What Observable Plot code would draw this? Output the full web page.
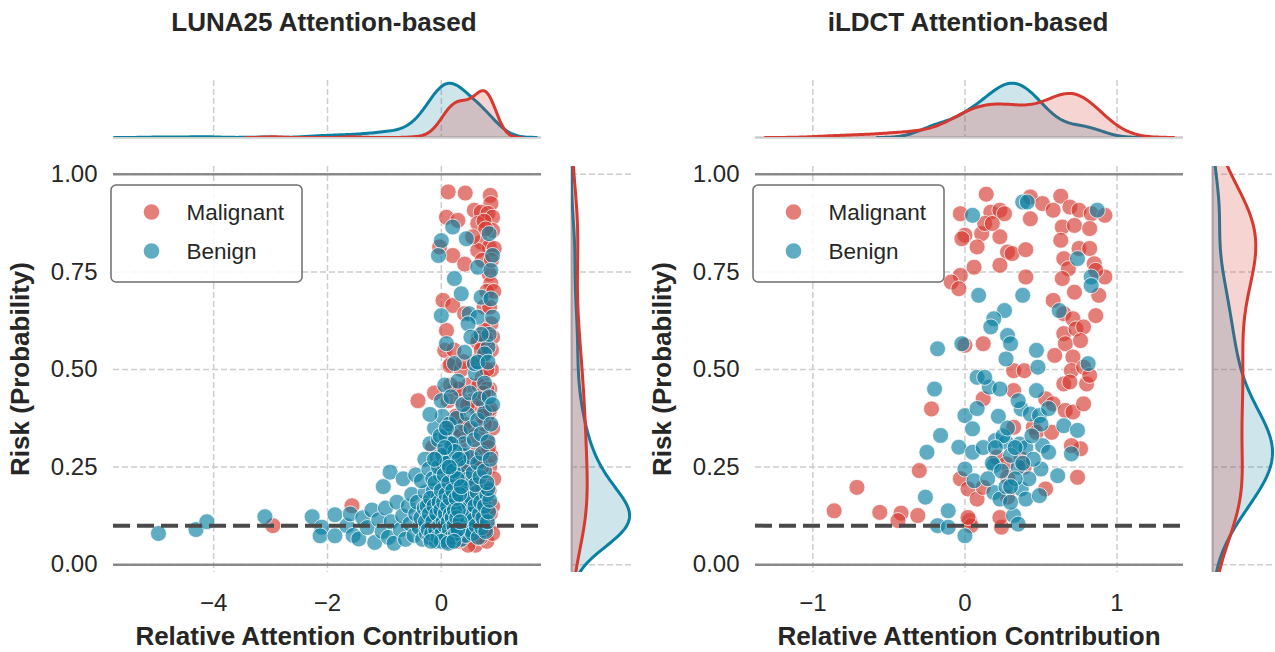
<!DOCTYPE html>
<html>
<head>
<meta charset="utf-8">
<script src="https://cdn.jsdelivr.net/npm/d3@7"></script>
<script src="https://cdn.jsdelivr.net/npm/@observablehq/plot@0.6"></script>
<style>
html, body { margin: 0; padding: 0; background: #ffffff; }
#fig { position: relative; width: 1275px; height: 652px; overflow: hidden; background: #ffffff; }
#fig svg { position: absolute; left: 0; top: 0; }
</style>
</head>
<body>
<div id="fig"></div>
<script>
// ---------------- data ----------------
const groups = ["Malignant", "Benign"];
const panelTitles = ["LUNA25 Attention-based", "iLDCT Attention-based"];
const xLabel = "Relative Attention Contribution";
const yLabel = "Risk (Probability)";
const yTicks = [0, 0.25, 0.5, 0.75, 1];
const lunaXTicks = [-4, -2, 0];
const ildctXTicks = [-1, 0, 1];
const threshold = 0.1;

// LUNA25: [relative attention contribution, risk]
const lunaMalignant = [
  [0.12,0.955],[0.42,0.952],[0.86,0.946],[0.87,0.925],[0.58,0.908],[0.70,0.903],[0.82,0.90],[0.09,0.89],[0.29,0.882],[0.64,0.874],
  [0.90,0.89],[0.90,0.856],[0.70,0.826],[0.84,0.814],[0.93,0.81],[0.64,0.805],[-0.03,0.814],[0.20,0.792],[0.41,0.77],[0.84,0.745],
  [0.87,0.72],[0.03,0.677],[0.20,0.664],[0.41,0.643],[0.87,0.617],[0.09,0.60],[0.06,0.549],[0.17,0.515],[0.76,0.60],[0.90,0.583],
  [0.75,0.88],[0.78,0.86],[0.55,0.84],[0.72,0.78],[0.80,0.70],[0.75,0.66],[0.88,0.78],[0.92,0.70],[0.85,0.66],[0.65,0.58],
  [-2.96,0.10],[-1.57,0.151],[-0.41,0.42],[-0.12,0.44],[0.15,0.51],[0.79,0.194],[0.84,0.39],[0.23,0.326],[0.23,0.07],
  [0.85,0.45],[0.80,0.38],[0.75,0.55],[0.88,0.50],[0.35,0.27],[0.20,0.35],[0.60,0.22],[0.50,0.15],[0.70,0.12],[0.40,0.08],
  [0.10,0.06],[0.30,0.11],[0.65,0.30],[0.55,0.42],[0.45,0.35],[0.85,0.25],[0.78,0.15],[0.20,0.18],[0.00,0.25],[0.60,0.05],
  [0.88,0.55],[0.25,0.45],[0.72,0.48],[0.50,0.25],[0.80,0.32],[0.15,0.28],[0.62,0.40],[0.35,0.50],[0.90,0.35],[0.42,0.20],
  [0.68,0.35],[0.05,0.12],[0.55,0.10],[0.80,0.06],[0.30,0.38],[0.12,0.42],[0.48,0.46],[0.75,0.20],[0.90,0.15],[0.70,0.42],
  [0.82,0.10],[0.66,0.18],[0.74,0.28],[0.86,0.40],[0.58,0.52],[0.78,0.58],[0.69,0.07],[0.92,0.22],[0.38,0.16],[0.27,0.22],
  [-0.10,0.15],[-0.05,0.09],[0.08,0.33],[0.18,0.09],[0.32,0.30],[0.44,0.12],[0.52,0.33],[0.63,0.13],[0.71,0.25],[0.84,0.19],
  [0.90,0.08],[0.76,0.36],[0.66,0.46],[0.58,0.27],[0.47,0.05],[0.36,0.42],[0.22,0.55],[0.87,0.28],[0.73,0.53],[0.64,0.57],
  [-0.15,0.30],[0.02,0.19],[0.40,0.24],[0.55,0.20],[0.80,0.45],
  [0.15,0.10],[0.18,0.22],[0.20,0.30],[0.22,0.13],[0.25,0.38],[0.26,0.17],[0.28,0.27],[0.30,0.06],[0.31,0.45],[0.33,0.19],
  [0.34,0.33],[0.36,0.09],[0.37,0.24],[0.39,0.52],[0.40,0.14],[0.41,0.36],[0.43,0.28],[0.44,0.18],[0.46,0.41],[0.47,0.09],
  [0.10,0.22],[0.12,0.36],[0.08,0.16],[0.05,0.28],[0.16,0.46],[0.62,0.16],[0.68,0.26],[0.72,0.38],[0.77,0.09],[0.83,0.30],
  [0.70,0.55],[0.80,0.50],[0.65,0.12],[0.74,0.44],[0.86,0.13]
];
const lunaBenign = [
  [-4.97,0.08],[-4.31,0.09],[-4.12,0.11],[-3.10,0.123],[-2.27,0.123],[-2.10,0.096],[-2.13,0.074],[-1.87,0.128],[-1.87,0.074],
  [-1.66,0.10],[-1.60,0.13],[-1.55,0.075],[-1.45,0.066],[-1.38,0.12],[-1.30,0.095],[-1.22,0.14],[-1.17,0.057],[-1.10,0.115],[-1.04,0.085],
  [-0.98,0.145],[-0.93,0.07],[-0.88,0.11],[-0.83,0.055],[-0.78,0.16],[-0.72,0.09],[-0.68,0.125],[-0.63,0.065],[-0.58,0.15],[-0.55,0.105],[-0.52,0.18],
  [-0.48,0.075],[-0.45,0.13],[-0.42,0.16],[-0.39,0.095],[-0.36,0.12],[-0.33,0.065],[-0.30,0.145],[-0.28,0.185],[-0.27,0.10],[-0.26,0.08],
  [-0.24,0.125],[-0.22,0.16],[-0.20,0.07],[-0.18,0.105],[-0.16,0.14],[-0.14,0.19],[-0.12,0.085],[-0.10,0.12],[-0.09,0.06],[-0.07,0.155],
  [-0.06,0.10],[-0.05,0.175],[-0.04,0.075],[-0.03,0.13],[-0.02,0.11],[-0.01,0.09],
  [0.01,0.15],[0.02,0.065],[0.03,0.12],[0.04,0.19],[0.05,0.095],[0.06,0.14],[0.08,0.075],[0.09,0.165],[0.10,0.11],[0.11,0.13],
  [0.12,0.085],[0.13,0.18],[0.14,0.06],[0.15,0.12],[0.17,0.15],[0.18,0.095],[0.20,0.135],[0.21,0.07],[0.23,0.17],[0.24,0.105],
  [0.26,0.14],[0.27,0.08],[0.29,0.115],[0.30,0.185],[0.32,0.095],[0.33,0.155],[0.35,0.065],[0.36,0.125],[0.38,0.17],[0.40,0.10],
  [0.41,0.14],[0.43,0.075],[0.45,0.19],[0.46,0.115],[0.48,0.155],[0.49,0.09],
  [0.51,0.13],[0.53,0.17],[0.55,0.08],[0.57,0.115],[0.59,0.15],[0.61,0.10],[0.63,0.185],[0.65,0.07],[0.67,0.13],[0.69,0.16],
  [0.71,0.095],[0.73,0.12],[0.76,0.15],[0.78,0.085],[0.80,0.18],[0.81,0.11],[0.83,0.135],[0.85,0.165],[0.82,0.195],
  [-1.02,0.20],[-0.90,0.237],[-0.67,0.22],[-0.45,0.23],[-0.35,0.215],[-0.29,0.27],[-0.22,0.245],[-0.15,0.22],[-0.08,0.275],[-0.02,0.23],
  [0.03,0.26],[0.07,0.21],[0.12,0.285],[0.16,0.24],[0.20,0.215],[0.25,0.265],[0.29,0.233],[0.33,0.205],[0.37,0.28],[0.42,0.25],
  [0.47,0.22],[0.52,0.275],[0.56,0.235],[0.60,0.205],[0.64,0.26],[0.68,0.225],[0.72,0.285],[0.76,0.24],[0.80,0.21],[0.86,0.27],
  [-0.20,0.31],[-0.12,0.35],[-0.05,0.32],[0.02,0.38],[0.08,0.33],[0.14,0.36],[0.20,0.31],[0.27,0.375],[0.33,0.34],[0.40,0.31],
  [0.46,0.385],[0.52,0.35],[0.58,0.32],[0.64,0.37],[0.70,0.335],[0.76,0.39],[0.82,0.315],[0.87,0.36],
  [-0.20,0.385],[0.00,0.42],[0.06,0.46],[0.17,0.43],[0.29,0.47],[0.38,0.41],[0.50,0.44],[0.60,0.49],[0.67,0.425],[0.76,0.465],
  [0.84,0.43],[0.90,0.41],[0.23,0.515],[0.58,0.515],[0.82,0.557],[0.84,0.59],
  [0.20,0.865],[0.44,0.835],[0.84,0.848],[0.00,0.83],[-0.05,0.792],[0.64,0.762],[0.90,0.792],[0.23,0.733],[0.87,0.754],[0.35,0.694],
  [0.70,0.685],[0.87,0.681],[0.00,0.638],[0.49,0.643],[0.64,0.634],[0.90,0.634],[0.41,0.544],[0.70,0.59],[0.76,0.54],[0.64,0.519],
  [0.82,0.519],[0.47,0.617],[0.52,0.583],[0.09,0.566],
  [-0.28,0.11],[-0.25,0.15],[-0.23,0.09],[-0.21,0.13],[-0.19,0.17],[-0.17,0.08],[-0.15,0.11],[-0.13,0.15],[-0.11,0.21],[-0.10,0.09],
  [-0.08,0.13],[-0.06,0.07],[-0.05,0.25],[-0.04,0.16],[-0.03,0.10],[-0.01,0.14],[0.00,0.19],[0.01,0.08],[0.02,0.28],[0.03,0.11],
  [0.04,0.16],[0.05,0.23],[0.06,0.10],[0.07,0.13],[0.08,0.18],[0.09,0.07],[0.10,0.26],[0.11,0.15],[0.12,0.11],[0.13,0.21],
  [0.14,0.09],[0.15,0.17],[0.16,0.13],[0.17,0.31],[0.18,0.07],[0.19,0.12],[0.20,0.19],[0.21,0.24],[0.22,0.10],[0.23,0.14],
  [0.24,0.29],[0.25,0.08],[0.26,0.17],[0.27,0.12],[0.28,0.22],[0.29,0.09],[0.30,0.14],[0.31,0.27],[0.32,0.18],[0.33,0.11],
  [-0.02,0.33],[0.06,0.30],[0.14,0.25],[0.09,0.35],[-0.12,0.27],[0.35,0.20],[0.00,0.06],[0.12,0.055],[-0.18,0.06],[0.22,0.06]
];

// iLDCT
const ildctMalignant = [
  [0.14,0.949],[-0.03,0.899],[0.17,0.903],[0.23,0.908],[0.26,0.899],[0.00,0.844],[-0.02,0.835],[0.11,0.848],[0.23,0.84],[0.13,0.874],
  [0.18,0.874],[0.08,0.814],[0.28,0.801],[0.31,0.797],[0.40,0.807],[0.23,0.767],[0.06,0.762],[-0.03,0.741],[-0.09,0.724],[-0.04,0.707],
  [0.40,0.737],[0.43,0.942],[0.51,0.925],[0.58,0.908],[0.63,0.944],[0.69,0.916],[0.75,0.908],[0.43,0.886],[0.83,0.899],[0.92,0.895],
  [0.64,0.865],[0.72,0.869],[0.82,0.861],[0.63,0.831],[0.75,0.81],[0.82,0.81],[0.65,0.784],[0.68,0.758],[0.85,0.771],[0.92,0.737],
  [0.64,0.733],[0.72,0.698],[0.86,0.754],[0.88,0.69],[0.58,0.677],[0.65,0.643],[0.71,0.63],[0.86,0.638],[0.65,0.592],[0.73,0.604],
  [0.78,0.609],[0.12,0.566],[0.59,0.536],[0.66,0.566],[0.71,0.532],[0.76,0.574],[0.32,0.497],[0.39,0.497],[0.70,0.497],[0.78,0.506],
  [0.00,0.562],
  [-0.22,0.399],[-0.30,0.241],[-0.71,0.198],[-0.86,0.138],[-0.56,0.134],[-0.42,0.132],[-0.44,0.113],[-0.31,0.126],[0.03,0.113],[0.04,0.10],
  [0.24,0.096],[0.23,0.121],[-0.03,0.22],[0.02,0.194],[0.08,0.168],[0.12,0.198],[0.21,0.275],[0.27,0.258],[0.28,0.224],[0.37,0.271],
  [0.39,0.25],[0.53,0.194],[0.28,0.173],[0.74,0.224],[0.32,0.352],[0.45,0.352],[0.47,0.339],[0.57,0.339],[0.53,0.425],[0.58,0.412],
  [0.66,0.395],[0.71,0.391],[0.78,0.412],[0.76,0.297],[0.70,0.305],[0.32,0.446],[0.65,0.463],[0.69,0.468],[0.80,0.463],[0.82,0.485],
  [0.12,0.425],[0.02,0.121]
];
const ildctBenign = [
  [0.05,0.895],[0.38,0.929],[0.41,0.929],[0.87,0.908],[0.74,0.784],[0.83,0.737],[0.83,0.715],[0.09,0.69],[0.38,0.69],[0.26,0.651],
  [0.19,0.63],[0.17,0.609],[0.62,0.651],[-0.18,0.553],[-0.02,0.566],[0.28,0.587],[0.30,0.566],[0.27,0.527],[0.47,0.549],[0.48,0.506],
  [0.81,0.515],
  [-0.20,0.45],[0.08,0.48],[0.16,0.455],[0.13,0.48],[0.23,0.45],[0.47,0.446],[0.00,0.382],[0.05,0.348],[-0.16,0.331],[-0.25,0.288],
  [-0.04,0.301],[0.05,0.288],[0.37,0.399],[0.43,0.386],[0.49,0.382],[0.65,0.356],[0.74,0.344],[0.20,0.318],[0.27,0.314],[0.36,0.309],
  [0.51,0.305],[0.55,0.288],[0.70,0.284],[0.00,0.245],[0.19,0.254],[0.35,0.25],[0.50,0.245],[0.61,0.228],[0.06,0.215],[0.19,0.185],
  [0.23,0.168],[0.37,0.194],[0.40,0.168],[0.49,0.177],[-0.26,0.173],[-0.11,0.138],[-0.18,0.10],[-0.11,0.096],[0.00,0.074],[0.32,0.126],
  [0.35,0.104],
  [0.22,0.38],[0.30,0.28],[0.42,0.22],[0.12,0.30],[0.35,0.42],[0.27,0.20],[0.50,0.36],[0.18,0.26],[0.40,0.30],[0.30,0.16],
  [0.25,0.33],[0.45,0.27],[0.55,0.40],[0.08,0.40],[0.33,0.22],
  [0.20,0.30],[0.28,0.35],[0.33,0.30],[0.38,0.26],[0.15,0.22],[0.24,0.24],[0.44,0.33],[0.30,0.20]
];

// ---------------- style / layout ----------------
const W = 1275, H = 652;
const FONT = "'Liberation Sans', Arial, Helvetica, sans-serif";
const malignantColor = "#d6392f";
const benignColor = "#0a7fa2";
const textColor = "#262626";
const gridStyle = {stroke: "#cdcdcd", strokeWidth: 1.5, strokeDasharray: "6,3"};
const mainTop = 166, mainBottom = 572;
const topMargTop = 80, topMargBottom = 137;

const panels = [
  {title: panelTitles[0], mal: lunaMalignant, ben: lunaBenign, xTicks: lunaXTicks,
   left: 113, right: 541, xDomain: [-5.76, 1.76], rLeft: 571, rRight: 632, titleX: 324},
  {title: panelTitles[1], mal: ildctMalignant, ben: ildctBenign, xTicks: ildctXTicks,
   left: 755, right: 1183, xDomain: [-1.377, 1.437], rLeft: 1212, rRight: 1275, titleX: 968}
];

const fmtMinus = d => d < 0 ? "\u2212" + Math.abs(d) : String(d);

function kde(vals, frac) {
  const n = vals.length;
  const sd = d3.deviation(vals);
  const bw = sd * Math.pow(n, -0.2);
  const lo = d3.min(vals) - 3 * bw, hi = d3.max(vals) + 3 * bw;
  const steps = 200;
  return d3.range(steps + 1).map(i => {
    const v = lo + (hi - lo) * i / steps;
    let s = 0;
    for (const x of vals) { const z = (v - x) / bw; s += Math.exp(-0.5 * z * z); }
    return {v, d: frac * s / (n * bw * Math.sqrt(2 * Math.PI))};
  });
}

const fig = document.getElementById("fig");
const baseStyle = {background: "transparent", overflow: "visible", fontFamily: FONT};

for (const p of panels) {
  const data = [
    ...p.mal.map(([x, y]) => ({x, y, g: "Malignant"})),
    ...p.ben.map(([x, y]) => ({x, y, g: "Benign"}))
  ];
  const nTot = p.mal.length + p.ben.length;
  const malX = kde(p.mal.map(d => d[0]), p.mal.length / nTot);
  const benX = kde(p.ben.map(d => d[0]), p.ben.length / nTot);
  const malY = kde(p.mal.map(d => d[1]), p.mal.length / nTot);
  const benY = kde(p.ben.map(d => d[1]), p.ben.length / nTot);
  const topMax = d3.max([...malX, ...benX], d => d.d);
  const rightMax = d3.max([...malY, ...benY], d => d.d);

  // main scatter
  const main = Plot.plot({
    width: W, height: H,
    marginLeft: p.left, marginRight: W - p.right, marginTop: mainTop, marginBottom: H - mainBottom,
    style: {...baseStyle, fontSize: "24px", color: textColor},
    x: {domain: p.xDomain, ticks: p.xTicks, tickSize: 0, tickPadding: 21, tickFormat: fmtMinus, label: null},
    y: {domain: [-0.02, 1.02], ticks: yTicks, tickSize: 0, tickPadding: 16, tickFormat: d3.format(".2f"), label: null},
    color: {domain: groups, range: [malignantColor, benignColor]},
    marks: [
      Plot.ruleX(p.xTicks, gridStyle),
      Plot.ruleY(yTicks, gridStyle),
      Plot.ruleY([0, 1], {stroke: "#808080", strokeWidth: 2.5, strokeOpacity: 0.9}),
      Plot.dot(data, {x: "x", y: "y", fill: "g", r: 8, fillOpacity: 0.65,
                      stroke: "#ffffff", strokeWidth: 1, strokeOpacity: 0.75}),
      Plot.ruleY([threshold], {stroke: "#4a4a4a", strokeWidth: 4, strokeDasharray: "17,7"})
    ]
  });
  fig.appendChild(main);

  // top marginal
  const top = Plot.plot({
    width: W, height: H,
    marginLeft: p.left, marginRight: W - p.right, marginTop: topMargTop, marginBottom: H - topMargBottom,
    style: baseStyle,
    x: {domain: p.xDomain, axis: null},
    y: {domain: [0, topMax * 1.05], axis: null},
    marks: [
      Plot.ruleX(p.xTicks, gridStyle),
      Plot.ruleY([0], {stroke: "#cccccc", strokeWidth: 2.5}),
      Plot.areaY(benX, {x: "v", y: "d", fill: benignColor, fillOpacity: 0.2, clip: true}),
      Plot.lineY(benX, {x: "v", y: "d", stroke: benignColor, strokeWidth: 3, clip: true}),
      Plot.areaY(malX, {x: "v", y: "d", fill: malignantColor, fillOpacity: 0.22, clip: true}),
      Plot.lineY(malX, {x: "v", y: "d", stroke: malignantColor, strokeWidth: 3, clip: true})
    ]
  });
  fig.appendChild(top);

  // right marginal
  const right = Plot.plot({
    width: W, height: H,
    marginLeft: p.rLeft, marginRight: W - p.rRight, marginTop: mainTop, marginBottom: H - mainBottom,
    style: baseStyle,
    x: {domain: [0, rightMax * 1.05], axis: null},
    y: {domain: [-0.02, 1.02], axis: null},
    marks: [
      Plot.ruleY(yTicks, gridStyle),
      Plot.ruleX([0], {stroke: "#cccccc", strokeWidth: 2.5}),
      Plot.areaX(benY, {y: "v", x: "d", fill: benignColor, fillOpacity: 0.2, clip: true}),
      Plot.lineX(benY, {y: "v", x: "d", stroke: benignColor, strokeWidth: 3, clip: true}),
      Plot.areaX(malY, {y: "v", x: "d", fill: malignantColor, fillOpacity: 0.22, clip: true}),
      Plot.lineX(malY, {y: "v", x: "d", stroke: malignantColor, strokeWidth: 3, clip: true})
    ]
  });
  fig.appendChild(right);
}

// ---------------- titles, axis labels, legends ----------------
const over = d3.create("svg").attr("width", W).attr("height", H)
  .style("font-family", FONT).style("overflow", "visible");
for (const p of panels) {
  const cx = (p.left + p.right) / 2;
  over.append("text").attr("x", p.titleX).attr("y", 31).attr("text-anchor", "middle")
    .attr("font-size", 26).attr("font-weight", "bold").attr("fill", textColor).text(p.title);
  over.append("text").attr("x", cx).attr("y", 645).attr("text-anchor", "middle")
    .attr("font-size", 26).attr("font-weight", "bold").attr("fill", textColor).text(xLabel);
  const ly = (mainTop + mainBottom) / 2;
  const lx = p.left - 84;
  over.append("text").attr("transform", `translate(${lx},${ly}) rotate(-90)`).attr("text-anchor", "middle")
    .attr("font-size", 26).attr("font-weight", "bold").attr("fill", textColor).text(yLabel);

  // legend
  const bx = p.left - 2, by = 185;
  const g = over.append("g").attr("transform", `translate(${bx},${by})`);
  g.append("rect").attr("x", 0).attr("y", 0).attr("width", 191).attr("height", 97).attr("rx", 5)
    .attr("fill", "#ffffff").attr("fill-opacity", 0.85).attr("stroke", "#6e6e6e").attr("stroke-width", 1.5);
  const cols = [malignantColor, benignColor];
  groups.forEach((name, i) => {
    const cy = 27 + i * 39;
    g.append("circle").attr("cx", 40.5).attr("cy", cy).attr("r", 7.8)
      .attr("fill", cols[i]).attr("fill-opacity", 0.65);
    g.append("text").attr("x", 75.5).attr("y", cy + 8).attr("font-size", 22.5)
      .attr("fill", textColor).text(name);
  });
}
fig.appendChild(over.node());
</script>
</body>
</html>
